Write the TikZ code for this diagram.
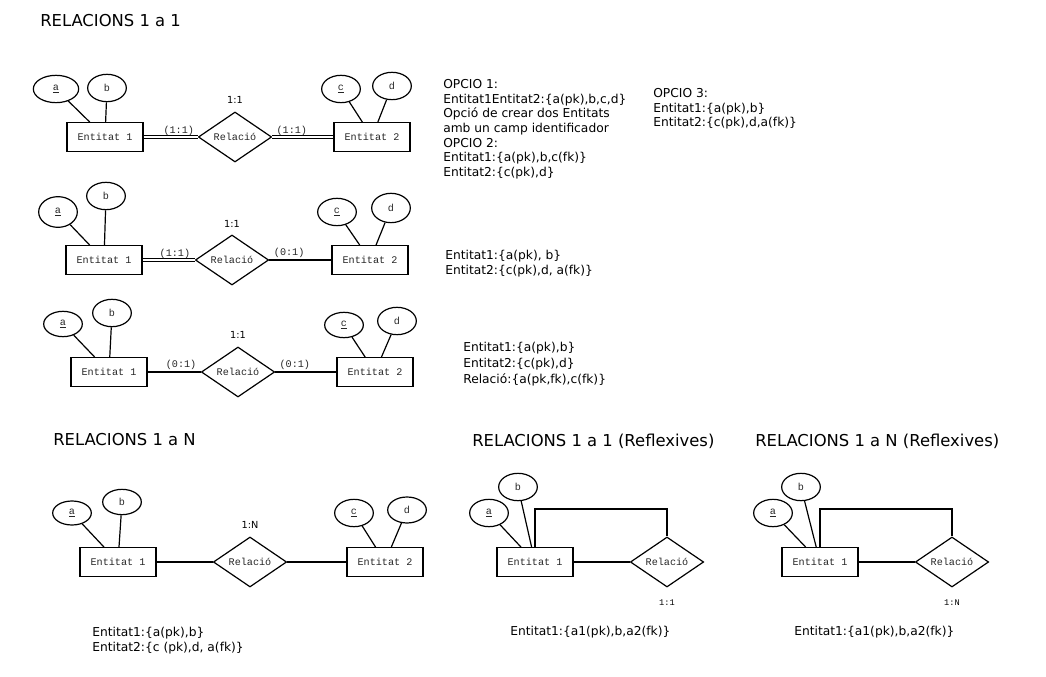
\documentclass[tikz,border=0pt]{standalone}
\usepackage{fontspec}
\setmainfont{DejaVu Sans}
\setmonofont{Liberation Mono}
\usetikzlibrary{positioning,shapes.geometric}
\newcommand{\ermono}{\ttfamily\fontsize{7.6}{9}\selectfont}
\newcommand{\smallmono}{\ttfamily\fontsize{6.5}{8}\selectfont}
\newcommand{\cardfont}{\fontsize{7.3}{9}\selectfont}
\newcommand{\ttlfont}{\fontsize{12.3}{15}\selectfont}
\newcommand{\txtfont}{\fontsize{9.2}{11}\selectfont}
\tikzset{
  ent/.style={draw,rectangle,line width=0.9pt,minimum width=57pt,minimum height=21.5pt,inner sep=0pt,font=\ermono,text=black!85},
  attr/.style={draw,ellipse,line width=0.9pt,minimum width=29pt,minimum height=20.5pt,inner sep=0pt,font=\ermono,text=black!85},
  rel/.style={draw,diamond,line width=0.9pt,minimum width=55pt,minimum height=32pt,inner sep=0pt,font=\ermono,text=black!85},
  lnk/.style={line width=0.9pt},
  dlnk/.style={double,double distance=1.5pt,line width=0.6pt},
  crd/.style={font=\ermono,inner sep=1pt,text=black!85},
  card/.style={font=\cardfont,inner sep=1pt},
  rcard/.style={font=\smallmono,inner sep=1pt},
  ttl/.style={font=\ttlfont,anchor=west,inner sep=0pt},
  txt/.style={font=\txtfont,anchor=north west,align=left,inner sep=0pt}
}
\begin{document}
\begin{tikzpicture}[x=0.75pt,y=-0.75pt]
  \useasboundingbox (0,0) rectangle (1046,677);

  \node[ttl] (t1) at (40,21) {RELACIONS 1 a 1};

  % 1:1 amb (1:1)-(1:1)
  \node[ent] (e11) at (105,137) {Entitat 1};
  \node[rel] (r1) at (235,137) {Relació};
  \node[ent] (e12) at (372,137) {Entitat 2};
  \node[attr,minimum width=34pt] (a1) at (56,89) {\underline{a}};
  \node[attr] (b1) at (107,88) {b};
  \node[attr] (c1) at (341,89) {\underline{c}};
  \node[attr] (d1) at (392,86) {d};
  \node[card,above=5pt of r1] (k1) {1:1};
  \draw[dlnk] (e11) -- node[crd,pos=0.65,above] {(1:1)} (r1);
  \draw[dlnk] (r1) -- node[crd,pos=0.32,above] {(1:1)} (e12);

  % 1:1 amb (1:1)-(0:1)
  \node[ent] (e21) at (104,260) {Entitat 1};
  \node[rel] (r2) at (232,260) {Relació};
  \node[ent] (e22) at (370,260) {Entitat 2};
  \node[attr,minimum height=23pt] (a2) at (58,212) {\underline{a}};
  \node[attr] (b2) at (106,196) {b};
  \node[attr] (c2) at (337,212) {\underline{c}};
  \node[attr,minimum height=22pt] (d2) at (391,208) {d};
  \node[card,above=4pt of r2] (k2) {1:1};
  \draw[dlnk] (e21) -- node[crd,pos=0.62,above] {(1:1)} (r2);
  \draw[lnk] (r2) -- node[crd,pos=0.32,above] {(0:1)} (e22);

  % 1:1 amb (0:1)-(0:1)
  \node[ent] (e31) at (109,372) {Entitat 1};
  \node[rel] (r3) at (238,372) {Relació};
  \node[ent] (e32) at (375,372) {Entitat 2};
  \node[attr,minimum height=19pt] (a3) at (63,324) {\underline{a}};
  \node[attr] (b3) at (112,313) {b};
  \node[attr,minimum height=19pt] (c3) at (344,325) {\underline{c}};
  \node[attr] (d3) at (397,321) {d};
  \node[card,above=5pt of r3] (k3) {1:1};
  \draw[lnk] (e31) -- node[crd,pos=0.63,above] {(0:1)} (r3);
  \draw[lnk] (r3) -- node[crd,pos=0.32,above] {(0:1)} (e32);

  \node[txt] (o1) at (443,79) {OPCIO 1:\\Entitat1Entitat2:\{a(pk),b,c,d\}\\Opció de crear dos Entitats\\amb un camp identificador\\OPCIO 2:\\Entitat1:\{a(pk),b,c(fk)\}\\Entitat2:\{c(pk),d\}};
  \node[txt] (o3) at (653,88) {OPCIO 3:\\Entitat1:\{a(pk),b\}\\Entitat2:\{c(pk),d,a(fk)\}};
  \node[txt] (o4) at (445,250) {Entitat1:\{a(pk), b\}\\Entitat2:\{c(pk),d, a(fk)\}};
  \node[txt,font=\fontsize{9.2}{12}\selectfont] (o5) at (463,342) {Entitat1:\{a(pk),b\}\\Entitat2:\{c(pk),d\}\\Relació:\{a(pk,fk),c(fk)\}};

  % 1:N
  \node[ttl] (t2) at (53,440) {RELACIONS 1 a N};
  \node[ent] (e41) at (118,562) {Entitat 1};
  \node[rel] (r4) at (250,562) {Relació};
  \node[ent] (e42) at (385,562) {Entitat 2};
  \node[attr,minimum height=18pt] (a4) at (72,513) {\underline{a}};
  \node[attr,minimum height=19pt] (b4) at (122,502) {b};
  \node[attr] (c4) at (354,513) {\underline{c}};
  \node[attr,minimum height=19.5pt] (d4) at (407,510) {d};
  \node[card,above=5pt of r4] (k4) {1:N};
  \draw[lnk] (e41) -- (r4);
  \draw[lnk] (r4) -- (e42);
  \node[txt] (o6) at (92,627) {Entitat1:\{a(pk),b\}\\Entitat2:\{c (pk),d, a(fk)\}};

  % reflexives
  \node[ttl] (t3) at (472,441) {RELACIONS 1 a 1 (Reflexives)};
  \node[ent] (e5) at (535,562) {Entitat 1};
  \node[rel] (r5) at (667,562) {Relació};
  \node[attr] (a5) at (489,513) {\underline{a}};
  \node[attr] (b5) at (518,487) {b};
  \node[rcard,below=8pt of r5] (k5) {1:1};
  \draw[lnk] (e5) -- (r5);
  \draw[lnk] (e5.north) -- ++(0,-38) -| (r5.north);
  \node[txt] (o7) at (510,626) {Entitat1:\{a1(pk),b,a2(fk)\}};

  \node[ttl] (t4) at (755,441) {RELACIONS 1 a N (Reflexives)};
  \node[ent] (e6) at (820,562) {Entitat 1};
  \node[rel] (r6) at (952,562) {Relació};
  \node[attr] (a6) at (773,513) {\underline{a}};
  \node[attr] (b6) at (801,487) {b};
  \node[rcard,below=8pt of r6] (k6) {1:N};
  \draw[lnk] (e6) -- (r6);
  \draw[lnk] (e6.north) -- ++(0,-38) -| (r6.north);
  \node[txt] (o8) at (794,626) {Entitat1:\{a1(pk),b,a2(fk)\}};

  \foreach \p/\q in {a1/e11, b1/e11, c1/e12, d1/e12, a2/e21, b2/e21, c2/e22, d2/e22,
                     a3/e31, b3/e31, c3/e32, d3/e32, a4/e41, b4/e41, c4/e42, d4/e42,
                     a5/e5, b5/e5, a6/e6, b6/e6}
    \draw[lnk] (\p)--(\q);
\end{tikzpicture}
\end{document}
